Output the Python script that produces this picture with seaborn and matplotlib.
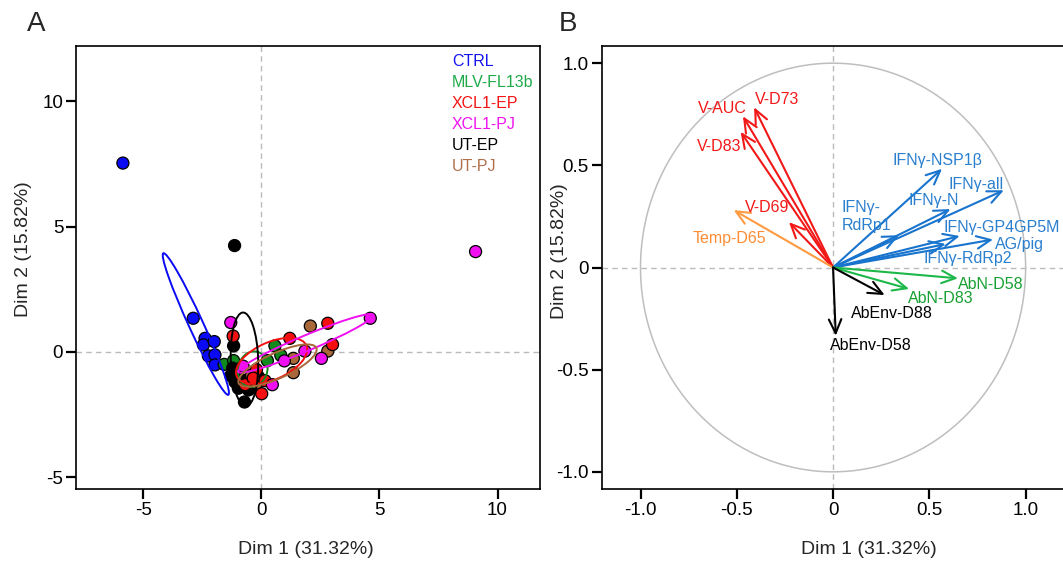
import numpy as np
import pandas as pd
import matplotlib
matplotlib.use("Agg")
import matplotlib.pyplot as plt
from matplotlib.patches import Ellipse
import seaborn as sns

# ---------------- data: panel A (individuals) ----------------
groups = ["CTRL", "MLV-FL13b", "XCL1-EP", "XCL1-PJ", "UT-EP", "UT-PJ"]
group_colors = ["#0A0AF5", "#118A1E", "#F41010", "#F00FF0", "#000000", "#A8683A"]
legend_colors = ["#1414F0", "#1EAA48", "#F41414", "#F014F0", "#000000", "#B0704A"]

ctrl_x = [-5.87, -2.89, -2.39, -2.46, -2.00, -2.25, -1.97, -1.97]
ctrl_y = [7.53, 1.34, 0.54, 0.28, 0.41, -0.16, -0.12, -0.52]
mlv_x = [0.57, 0.82, 0.25, -1.58, -1.18, -1.05, -0.90, -0.55, -0.30, -0.95]
mlv_y = [0.24, -0.14, -0.35, -0.50, -0.35, -0.80, -1.10, -1.35, -0.95, -1.40]
utep_x = [-1.14, -1.18, -1.22, -1.30, -1.12, -0.98, -0.72, -0.55, -0.13, -0.85, -0.60]
utep_y = [4.24, 0.24, -0.65, -0.95, -1.20, -1.45, -2.00, -1.52, -0.99, -1.10, -1.25]
utpj_x = [2.07, 1.35, 1.35, 2.81, -0.42, -0.20]
utpj_y = [1.03, -0.26, -0.83, 0.03, -0.93, -1.25]
xep_x = [2.81, 1.20, 3.01, -1.20, -0.21, 0.01, -0.69, -0.35, 0.15]
xep_y = [1.14, 0.54, 0.29, 0.63, -0.71, -1.67, -1.31, -1.05, -1.15]
xpj_x = [9.07, 4.61, 1.84, 0.97, 2.54, 0.46, -0.78, -1.30]
xpj_y = [4.00, 1.34, 0.03, -0.36, -0.26, -1.31, -0.57, 1.17]

# confidence ellipses: centre x, centre y, semi-major, semi-minor, angle (deg)
ell_group = ["CTRL", "MLV-FL13b", "XCL1-EP", "XCL1-PJ", "UT-EP", "UT-PJ"]
ell_cx = [-2.78, -0.37, 0.43, 1.88, -0.72, 0.68]
ell_cy = [1.11, -0.69, -0.36, 0.34, -0.30, -0.545]
ell_a = [3.14, 0.72, 1.60, 3.08, 1.87, 1.79]
ell_b = [0.30, 0.62, 0.75, 0.31, 0.58, 0.51]
ell_ang = [-64, 70, 22, 21.6, 92, 23]

# ---------------- data: panel B (variables) ----------------
var_names = ["V-D73", "V-AUC", "V-D83", "V-D69", "Temp-D65",
             "IFNγ-NSP1β", "IFNγ-all", "IFNγ-N", "IFNγ-\nRdRp1",
             "IFNγ-GP4GP5M", "AG/pig", "IFNγ-RdRp2",
             "AbN-D58", "AbN-D83", "AbEnv-D88", "AbEnv-D58"]
var_d1 = [-0.410, -0.468, -0.480, -0.229, -0.516,
          0.566, 0.887, 0.610, 0.343,
          0.658, 0.831, 0.585,
          0.649, 0.395, 0.268, 0.014]
var_d2 = [0.784, 0.740, 0.664, 0.222, 0.281,
          0.483, 0.378, 0.286, 0.158,
          0.154, 0.137, 0.115,
          -0.053, -0.105, -0.135, -0.334]
var_kind = ["V", "V", "V", "V", "T",
            "I", "I", "I", "I", "I", "I", "I",
            "N", "N", "E", "E"]
lab_x = [-0.293, -0.577, -0.590, -0.341, -0.539,
         0.542, 0.745, 0.525, 0.043,
         0.876, 0.970, 0.700,
         0.817, 0.559, 0.307, 0.194]
lab_y = [0.823, 0.777, 0.594, 0.295, 0.142,
         0.524, 0.404, 0.330, 0.250,
         0.195, 0.114, 0.044,
         -0.083, -0.153, -0.225, -0.383]
kind_arrow_color = {"V": "#F21818", "T": "#FF9A40", "I": "#1874CD", "N": "#1DB84A", "E": "#000000"}
kind_text_color = {"V": "#F21818", "T": "#FF8C33", "I": "#2A7FCF", "N": "#17A030", "E": "#000000"}

xlab = "Dim 1 (31.32%)"
ylab = "Dim 2 (15.82%)"

# ---------------- style ----------------
sns.set_theme(style="white")
plt.rcParams["font.family"] = ["Liberation Sans", "DejaVu Sans"]
plt.rcParams["axes.unicode_minus"] = False

W, H = 1063, 563
fig = plt.figure(figsize=(W / 100, H / 100), dpi=100)
fig.patch.set_facecolor("white")
axA = fig.add_axes([76.4 / W, 1 - 489 / H, 463.6 / W, 443 / H])
axB = fig.add_axes([602 / W, 1 - 489 / H, 465 / W, 443 / H])

# ---------------- panel A ----------------
order = [("CTRL", ctrl_x, ctrl_y), ("MLV-FL13b", mlv_x, mlv_y), ("UT-EP", utep_x, utep_y),
         ("UT-PJ", utpj_x, utpj_y), ("XCL1-EP", xep_x, xep_y), ("XCL1-PJ", xpj_x, xpj_y)]
rows = []
for g, xs, ys in order:
    for a, b in zip(xs, ys):
        rows.append((g, a, b))
df = pd.DataFrame(rows, columns=["group", "x", "y"])
pal = dict(zip(groups, group_colors))

axA.axhline(0, color="#BBBBBB", lw=1.0, ls=(0, (4, 3)), zorder=1)
axA.axvline(0, color="#BBBBBB", lw=1.0, ls=(0, (4, 3)), zorder=1)
sns.scatterplot(data=df, x="x", y="y", hue="group", palette=pal, s=75,
                edgecolor="black", linewidth=0.9, legend=False, ax=axA, zorder=3)
for g, cx, cy, a, b, ang in zip(ell_group, ell_cx, ell_cy, ell_a, ell_b, ell_ang):
    axA.add_patch(Ellipse((cx, cy), 2 * a, 2 * b, angle=ang, fill=False,
                          edgecolor=pal[g], lw=1.4, zorder=4))
axA.set_xlim(-7.84, 11.8)
axA.set_ylim(-5.47, 12.2)
axA.set_xticks([-5, 0, 5, 10])
axA.set_yticks([-5, 0, 5, 10])
axA.set_xticklabels(["-5", "0", "5", "10"])
axA.set_yticklabels(["-5", "0", "5", "10"])
axA.set_xlabel("")
axA.set_ylabel("")
for i, (g, c) in enumerate(zip(groups, legend_colors)):
    axA.text(0.81, 0.964 - i * 0.0474, g, color=c, fontsize=11.5,
             transform=axA.transAxes, ha="left", va="center")

# ---------------- panel B ----------------
t = np.linspace(0, 2 * np.pi, 400)
axB.plot(np.cos(t), np.sin(t), color="#BEBEBE", lw=1.1, zorder=1)
axB.axhline(0, color="#BBBBBB", lw=1.0, ls=(0, (4, 3)), zorder=1)
axB.axvline(0, color="#BBBBBB", lw=1.0, ls=(0, (4, 3)), zorder=1)
for name, d1, d2, k, lx, ly in zip(var_names, var_d1, var_d2, var_kind, lab_x, lab_y):
    axB.annotate("", xy=(d1, d2), xytext=(0, 0),
                 arrowprops=dict(arrowstyle="->,head_length=1.0,head_width=0.45",
                                 color=kind_arrow_color[k], lw=1.5,
                                 shrinkA=0, shrinkB=0, mutation_scale=10),
                 zorder=3)
    if "\n" in name:
        axB.text(lx, ly, name, color=kind_text_color[k], fontsize=11.5,
                 ha="left", va="center", linespacing=1.2, zorder=4)
    else:
        axB.text(lx, ly, name, color=kind_text_color[k], fontsize=11.5,
                 ha="center", va="center", zorder=4)
axB.set_xlim(-1.2, 1.215)
axB.set_ylim(-1.084, 1.084)
axB.set_xticks([-1, -0.5, 0, 0.5, 1])
axB.set_xticklabels(["-1.0", "-0.5", "0", "0.5", "1.0"])
axB.set_yticks([-1, -0.5, 0, 0.5, 1])
axB.set_yticklabels(["-1.0", "-0.5", "0", "0.5", "1.0"])

for ax in (axA, axB):
    for sp in ax.spines.values():
        sp.set_visible(True)
        sp.set_color("black")
        sp.set_linewidth(1.2)
    ax.tick_params(direction="out", length=7, width=1.6, labelsize=13.5,
                   pad=2.5, colors="black", bottom=True, left=True)
    ax.set_facecolor("white")
    ax.grid(False)

# axis titles
fig.text(306 / W, 1 - 549 / H, xlab, fontsize=14, ha="center", va="center")
fig.text(869 / W, 1 - 550 / H, xlab, fontsize=14, ha="center", va="center")
fig.text(24 / W, 1 - 249 / H, ylab, fontsize=14, ha="center", va="center", rotation=90)
fig.text(559 / W, 1 - 251 / H, ylab, fontsize=14, ha="center", va="center", rotation=90)

# panel letters
fig.text(36 / W, 1 - 24 / H, "A", fontsize=20, ha="center", va="center")
fig.text(568 / W, 1 - 24 / H, "B", fontsize=20, ha="center", va="center")

fig.savefig("out.png", dpi=100, facecolor="white")
